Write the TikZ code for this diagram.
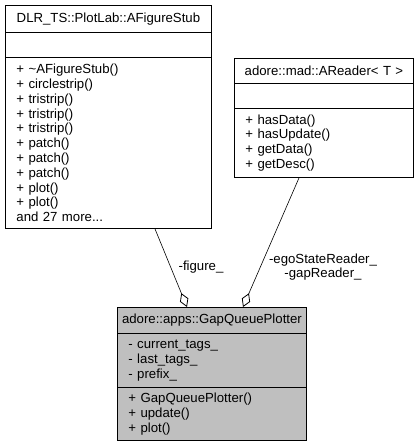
\documentclass[tikz,border=0pt]{standalone}
\usepackage{fontspec}
\setmainfont{Liberation Sans}
\usepackage{tikz}
\usetikzlibrary{arrows.meta}
\definecolor{classgray}{RGB}{191,191,191}

\begin{document}
\begin{tikzpicture}[x=1pt,y=-1pt,font=\fontsize{13.2}{14.8}\selectfont,
  part/.style={draw,line width=0.9pt,anchor=north west,inner xsep=11pt,inner ysep=0pt,align=left},
  title/.style={part,inner xsep=2pt,align=center},
  aggr/.style={draw,line width=0.6pt,-{Diamond[open,length=15pt,width=9pt,line width=0.8pt]}}]
\useasboundingbox (0,0) rectangle (419,448);
%\draw[help lines] (0,0) grid[step=50] (419,448);
% DLR_TS::PlotLab::AFigureStub
\node (afs_t) [title,text width=202pt,minimum height=27pt] at (5,5) {DLR\_TS::PlotLab::AFigureStub};
\node (afs_a) [part,text width=184pt,minimum height=25pt] at (5,32) {};
\node (afs_m) [part,text width=184pt,minimum height=171pt] at (5,57) {+ \textasciitilde AFigureStub()\\+ circlestrip()\\+ tristrip()\\+ tristrip()\\+ tristrip()\\+ patch()\\+ patch()\\+ patch()\\+ plot()\\+ plot()\\and 27 more...};
% adore::mad::AReader< T >
\node (ard_t) [title,text width=175pt,minimum height=25pt] at (234,58) {adore::mad::AReader< T >};
\node (ard_a) [part,text width=157pt,minimum height=25pt] at (234,83) {};
\node (ard_m) [part,text width=157pt,minimum height=69pt] at (234,108) {+ hasData()\\+ hasUpdate()\\+ getData()\\+ getDesc()};
% adore::apps::GapQueuePlotter
\node (gqp_t) [title,fill=classgray,text width=185pt,minimum height=26pt] at (117,307) {adore::apps::GapQueuePlotter};
\node (gqp_a) [part,fill=classgray,text width=167pt,minimum height=54pt] at (117,333) {- current\_tags\_\\- last\_tags\_\\- prefix\_};
\node (gqp_m) [part,fill=classgray,text width=167pt,minimum height=53pt] at (117,387) {+ GapQueuePlotter()\\+ update()\\+ plot()};

\coordinate (fig_s) at ([xshift=150pt]afs_m.south west);
\coordinate (fig_e) at ([xshift=70pt]gqp_t.north west);
\coordinate (rdr_s) at ([xshift=65pt]ard_m.south west);
\coordinate (rdr_e) at ([xshift=126pt]gqp_t.north west);
\node (fig_l) at (201,267) {-figure\_};
\node (rdr_l) [align=center] at (323,267) {-egoStateReader\_\\-gapReader\_};

\path
(fig_s) edge [aggr] (fig_e)
(rdr_s) edge [aggr] (rdr_e);
\end{tikzpicture}
\end{document}
